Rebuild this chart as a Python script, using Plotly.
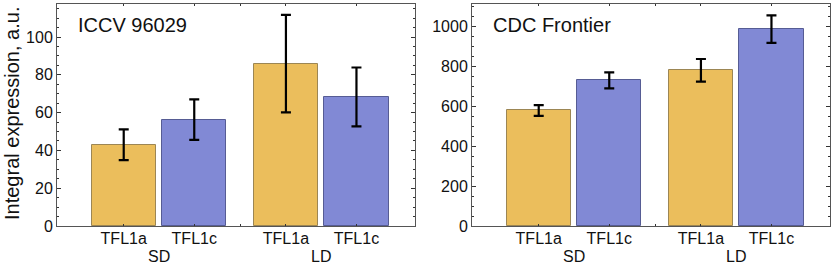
import plotly.graph_objects as go

# ---- data ----
genes = ["TFL1a", "TFL1c", "TFL1a", "TFL1c"]
conditions = ["SD", "LD"]
x_pos = [0, 1, 2.3, 3.3]
group_centers = [0.5, 2.8]
group_gap = 1.65

iccv_vals = [43, 56.3, 85.9, 68.3]
iccv_err = [8.1, 10.7, 25.8, 15.6]

cdc_vals = [580, 731, 781, 988]
cdc_err = [27, 40, 57, 69]

panel_titles = ["ICCV 96029", "CDC Frontier"]
y_title = "Integral expression, a.u."

# ---- styling ----
fills = ["#EBBE5C", "#8189D5", "#EBBE5C", "#8189D5"]
edges = ["#9C8654", "#565C94", "#9C8654", "#565C94"]
FONT = "Liberation Sans, Arial, Helvetica, sans-serif"
W, H = 835, 267

fig = go.Figure()

def px_x(p):
    return p / W

def px_y(p):
    return 1 - p / H

panels = [
    dict(vals=iccv_vals, err=iccv_err, xa="x", ya="y", dom=[57, 415], yr=[0, 117.5],
         dt=20, minor=5, title=panel_titles[0]),
    dict(vals=cdc_vals, err=cdc_err, xa="x2", ya="y2", dom=[472, 830], yr=[0, 1114],
         dt=200, minor=50, title=panel_titles[1]),
]

for i, p in enumerate(panels):
    fig.add_trace(go.Bar(
        x=x_pos, y=p["vals"], width=0.91,
        marker=dict(color=fills, line=dict(color=edges, width=1)),
        error_y=dict(type="data", array=p["err"], visible=True,
                     color="black", thickness=2.2, width=5),
        xaxis=p["xa"], yaxis=p["ya"], showlegend=False, hoverinfo="skip",
    ))
    sfx = "" if i == 0 else "2"
    fig.update_layout(**{
        "xaxis" + sfx: dict(
            domain=[px_x(p["dom"][0]), px_x(p["dom"][1])],
            range=[-0.946, 4.13],
            tickvals=[x_pos[0], x_pos[1], group_gap, x_pos[2], x_pos[3]],
            ticktext=[genes[0], genes[1], "", genes[2], genes[3]],
            ticks="inside", ticklen=2, tickcolor="#333", tickwidth=1,
            ticklabelstandoff=-2,
            showline=True, linecolor="#555", linewidth=1, mirror="allticks",
            showgrid=False, zeroline=False, automargin=False,
            tickfont=dict(family=FONT, size=16, color="#111"),
            anchor="y" + sfx,
        ),
        "yaxis" + sfx: dict(
            domain=[px_y(226), px_y(4)],
            range=p["yr"],
            dtick=p["dt"], tick0=0,
            ticks="inside", ticklen=4, tickcolor="#333", tickwidth=1,
            minor=dict(dtick=p["minor"], ticks="inside", ticklen=2, tickcolor="#333"),
            showline=True, linecolor="#555", linewidth=1, mirror="allticks",
            showgrid=False, zeroline=False, automargin=False,
            tickfont=dict(family=FONT, size=16, color="#111"),
            anchor="x" + sfx,
        ),
    })
    # panel title
    fig.add_annotation(
        x=px_x(p["dom"][0] + 19), y=px_y(25), xref="paper", yref="paper",
        text=p["title"], showarrow=False, xanchor="left", yanchor="middle",
        font=dict(family=FONT, size=20, color="#111"),
    )
    # group labels
    for gc, cond in zip(group_centers, conditions):
        fig.add_annotation(
            x=gc, y=px_y(256), xref=p["xa"], yref="paper",
            text=cond, showarrow=False, xanchor="center", yanchor="middle",
            font=dict(family=FONT, size=16, color="#111"),
        )

fig.add_annotation(
    x=px_x(12), y=px_y(114), xref="paper", yref="paper",
    text=y_title, showarrow=False, textangle=-90,
    xanchor="center", yanchor="middle",
    font=dict(family=FONT, size=20, color="#111"),
)

fig.update_layout(
    width=W, height=H,
    margin=dict(l=0, r=0, t=0, b=0, autoexpand=False),
    paper_bgcolor="white", plot_bgcolor="white",
    bargap=0,
)

fig.write_html(
    "out.html",
    config={"displayModeBar": False},
    post_script="document.body.style.margin='0';document.body.style.overflow='hidden';",
)
